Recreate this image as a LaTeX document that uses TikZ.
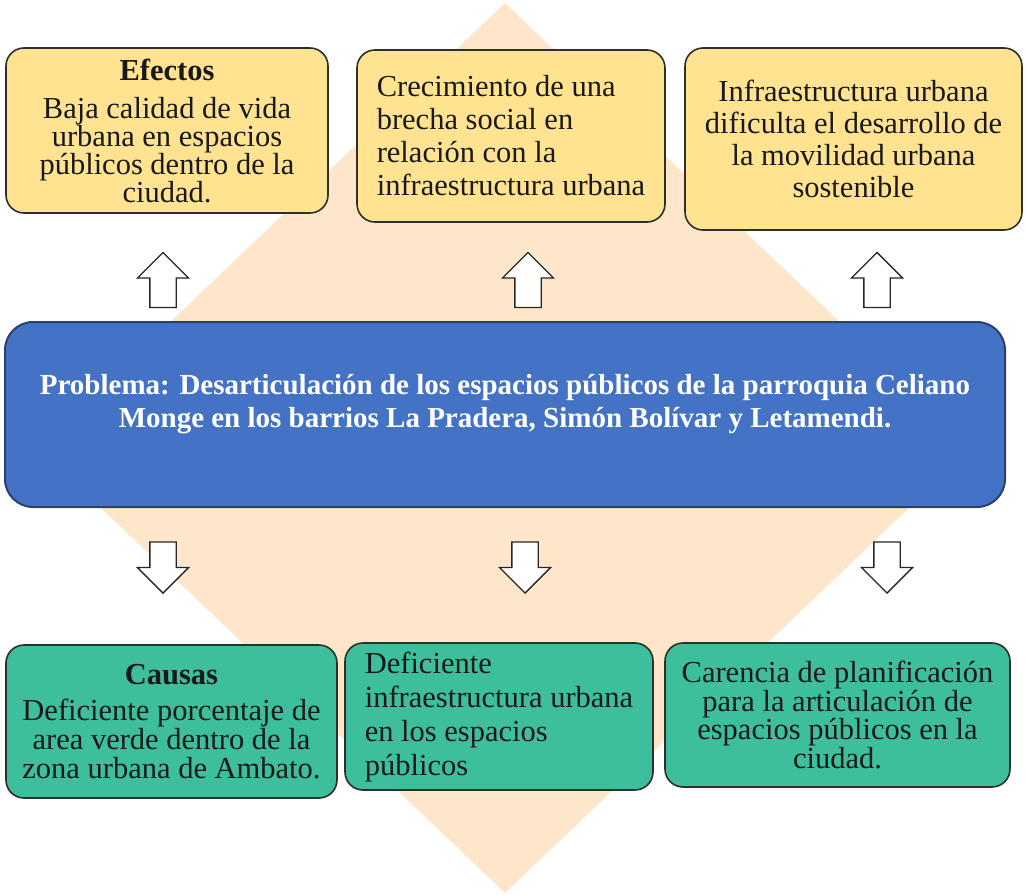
\documentclass[tikz,border=0pt]{standalone}
\usepackage{fontspec}
\setmainfont{Liberation Serif}
\usetikzlibrary{shapes.arrows}

\definecolor{efectofill}{HTML}{FFE391}
\definecolor{causafill}{HTML}{3DBE9C}
\definecolor{problemafill}{HTML}{4472C4}
\definecolor{problemaline}{HTML}{2B3F70}
\definecolor{rombofill}{HTML}{FDE6CA}
\definecolor{bordecaja}{HTML}{2E2E2A}

\tikzset{
	caja/.style={draw=bordecaja, line width=1.6pt, rounded corners=18pt, inner sep=0pt, align=center},
	efecto/.style={caja, fill=efectofill, text=black!90},
	causa/.style={caja, fill=causafill, text=black!90},
	flecha/.style={single arrow, draw=black!85, fill=white, line width=1.3pt, inner sep=12.5pt,
		minimum width=50pt, single arrow head extend=12.5pt, single arrow tip angle=90},
}

\begin{document}
\begin{tikzpicture}[x=1pt, y=-1pt]
	\useasboundingbox (0,0) rectangle (1027,894);
	
	% rombo de fondo
	\fill[rombofill] (505,3) -- (972,448) -- (505,893) -- (38,448) -- cycle;
	
	% efectos
	\node[efecto, minimum width=322pt, minimum height=165pt, font=\fontsize{30.5}{28}\selectfont] (efA) at (167,130.5)
		{\textbf{Efectos}\\[10pt] Baja calidad de vida\\ urbana en espacios\\ públicos dentro de la\\ ciudad.};
	\node[efecto, minimum width=308pt, minimum height=172pt, align=left, font=\fontsize{30.5}{33}\selectfont] (efB) at (511,136)
		{Crecimiento de una\\ brecha social en\\ relación con la\\ infraestructura urbana};
	\node[efecto, minimum width=337pt, minimum height=182pt, font=\fontsize{30.5}{32}\selectfont] (efC) at (853.5,139)
		{Infraestructura urbana\\ dificulta el desarrollo de\\ la movilidad urbana\\ sostenible};
	
	% problema
	\node[caja, fill=problemafill, draw=problemaline, line width=2pt, rounded corners=28pt,
		minimum width=1000pt, minimum height=185pt] (prob) at (505,414.5) {};
	\node[text=white, font=\bfseries\fontsize{29}{33}\selectfont, align=center] (probtxt) at (505,404)
		{Problema: Desarticulación de los espacios públicos de la parroquia Celiano\\
		 Monge en los barrios La Pradera, Simón Bolívar y Letamendi.};
	
	% causas
	\node[causa, minimum width=331pt, minimum height=153pt, font=\fontsize{30.5}{29}\selectfont] (caA) at (171.5,721.5)
		{\textbf{Causas}\\[7pt] Deficiente porcentaje de\\ area verde dentro de la\\ zona urbana de Ambato.};
	\node[causa, minimum width=308pt, minimum height=147pt, align=left, font=\fontsize{30.5}{34}\selectfont] (caB) at (499,716.5)
		{Deficiente\\ infraestructura urbana\\ en los espacios\\ públicos};
	\node[causa, minimum width=345pt, minimum height=144pt, font=\fontsize{30.5}{28.5}\selectfont] (caC) at (837.5,715)
		{Carencia de planificación\\ para la articulación de\\ espacios públicos en la\\ ciudad.};
	
	% flechas
	\foreach \x/\n in {163/A,528/B,877/C}
		\node[flecha, minimum height=55pt, shape border rotate=90] (sube\n) at (\x,286.5) {};
	\foreach \x/\n in {163/A,525/B,887/C}
		\node[flecha, minimum height=51pt, shape border rotate=270] (baja\n) at (\x,561) {};
\end{tikzpicture}
\end{document}
